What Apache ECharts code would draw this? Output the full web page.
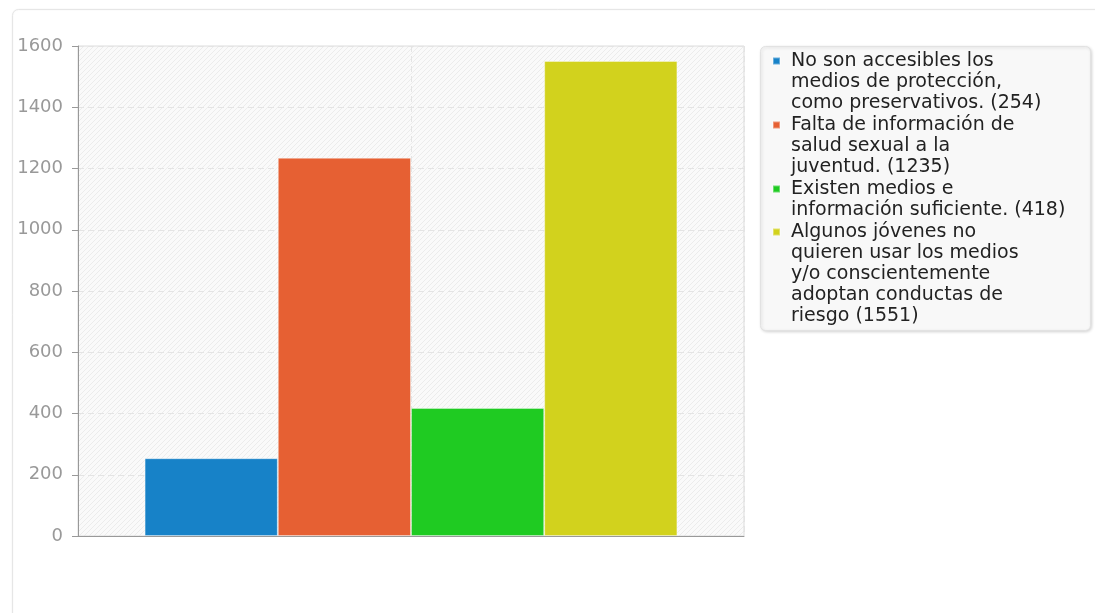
<!DOCTYPE html>
<html><head><meta charset="utf-8">
<script src="https://cdn.jsdelivr.net/npm/echarts@6/dist/echarts.min.js"></script>
<style>html,body{margin:0;padding:0;background:#fff}#c{width:1095px;height:613px}</style>
</head><body><div id="c"></div>
<script>
// ---- data ----
const categories = [''];
const seriesNames = [
  'No son accesibles los medios de protección, como preservativos.',
  'Falta de información de salud sexual a la juventud.',
  'Existen medios e información suficiente.',
  'Algunos jóvenes no quieren usar los medios y/o conscientemente adoptan conductas de riesgo'
];
const seriesValues = [254, 1235, 418, 1551];
const legendLines = [
  ['No son accesibles los', 'medios de protección,', 'como preservativos.'],
  ['Falta de información de', 'salud sexual a la', 'juventud.'],
  ['Existen medios e', 'información suficiente.'],
  ['Algunos jóvenes no', 'quieren usar los medios', 'y/o conscientemente', 'adoptan conductas de', 'riesgo']
];
const colors = ['#1782c8', '#e66033', '#1fcb22', '#d2d21d'];
const yTicks = [0, 200, 400, 600, 800, 1000, 1200, 1400, 1600];

// ---- hatch pattern ----
const pc = document.createElement('canvas');
pc.width = 5; pc.height = 5;
const g = pc.getContext('2d');
g.fillStyle = '#fafafa'; g.fillRect(0, 0, 5, 5);
g.strokeStyle = '#ececec'; g.lineWidth = 1;
g.beginPath();
g.moveTo(-1, 6); g.lineTo(6, -1);
g.moveTo(-1, 1); g.lineTo(1, -1);
g.moveTo(4, 6); g.lineTo(6, 4);
g.stroke();

const LH = 21;
const legendTops = [49.5, 113.5, 177.5, 220.5];
const FONT = 'DejaVu Sans';

const legends = seriesNames.map((name, i) => {
  const n = legendLines[i].length;
  const h = n * LH;
  const c = LH / 2;
  return {
    show: true,
    left: 772, top: legendTops[i],
    orient: 'vertical',
    padding: 0,
    itemWidth: 13, itemHeight: h,
    data: [{ name: name, icon: 'path://M0,0 M13,' + h + ' M0,' + (c - 3.5) + ' h7 v7 h-7 Z' }],
    selectedMode: false,
    formatter: () => {
      const l = legendLines[i].slice();
      l[l.length - 1] = l[l.length - 1] + ' (' + seriesValues[i] + ')';
      return l.join('\n');
    },
    textStyle: { fontFamily: FONT, fontSize: 19, color: '#222', lineHeight: LH }
  };
});

const chart = echarts.init(document.getElementById('c'), null, { renderer: 'canvas' });
chart.setOption({
  animation: false,
  color: colors,
  graphic: [
    { type: 'rect', z: -10, shape: { x: 12.5, y: 9.5, width: 1200, height: 800, r: 6 },
      style: { fill: '#fff', stroke: '#e6e6e6', lineWidth: 1, shadowBlur: 2, shadowColor: 'rgba(0,0,0,0.06)' } },
    { type: 'rect', z: -5, shape: { x: 760.5, y: 46.5, width: 330, height: 284, r: 5 },
      style: { fill: '#f8f8f8', stroke: '#e2e2e2', lineWidth: 1, shadowBlur: 3, shadowOffsetX: 1, shadowOffsetY: 1, shadowColor: 'rgba(0,0,0,0.15)' } }
  ],
  legend: legends,
  grid: { left: 78, right: 351, top: 46, bottom: 77, show: true,
    backgroundColor: { image: pc, repeat: 'repeat' }, borderColor: '#dcdcdc', borderWidth: 1 },
  xAxis: [
    { type: 'category', data: categories,
      axisLine: { lineStyle: { color: '#999' } }, axisTick: { show: false }, axisLabel: { show: false },
      splitLine: { show: false } },
    { type: 'value', min: 0, max: 2, interval: 1, position: 'bottom',
      axisLine: { show: false }, axisTick: { show: false }, axisLabel: { show: false },
      splitLine: { show: true, lineStyle: { color: '#e4e4e4', type: [6, 4] } } }
  ],
  yAxis: {
    type: 'value', min: yTicks[0], max: yTicks[yTicks.length - 1], interval: 200,
    axisLine: { show: true, lineStyle: { color: '#999' } },
    axisTick: { show: true, length: 6, lineStyle: { color: '#999' } },
    axisLabel: { margin: 15, color: '#999', fontFamily: FONT, fontSize: 18, formatter: v => String(v) },
    splitLine: { show: true, lineStyle: { color: '#e4e4e4', type: [6, 4] } }
  },
  series: seriesNames.map((name, i) => ({
    type: 'bar', name: name, xAxisIndex: 0,
    data: [seriesValues[i]],
    barGap: '0%', barCategoryGap: '20%',
    itemStyle: { color: colors[i], borderColor: 'rgba(255,255,255,0.35)', borderWidth: 1 }
  }))
});
</script></body></html>
